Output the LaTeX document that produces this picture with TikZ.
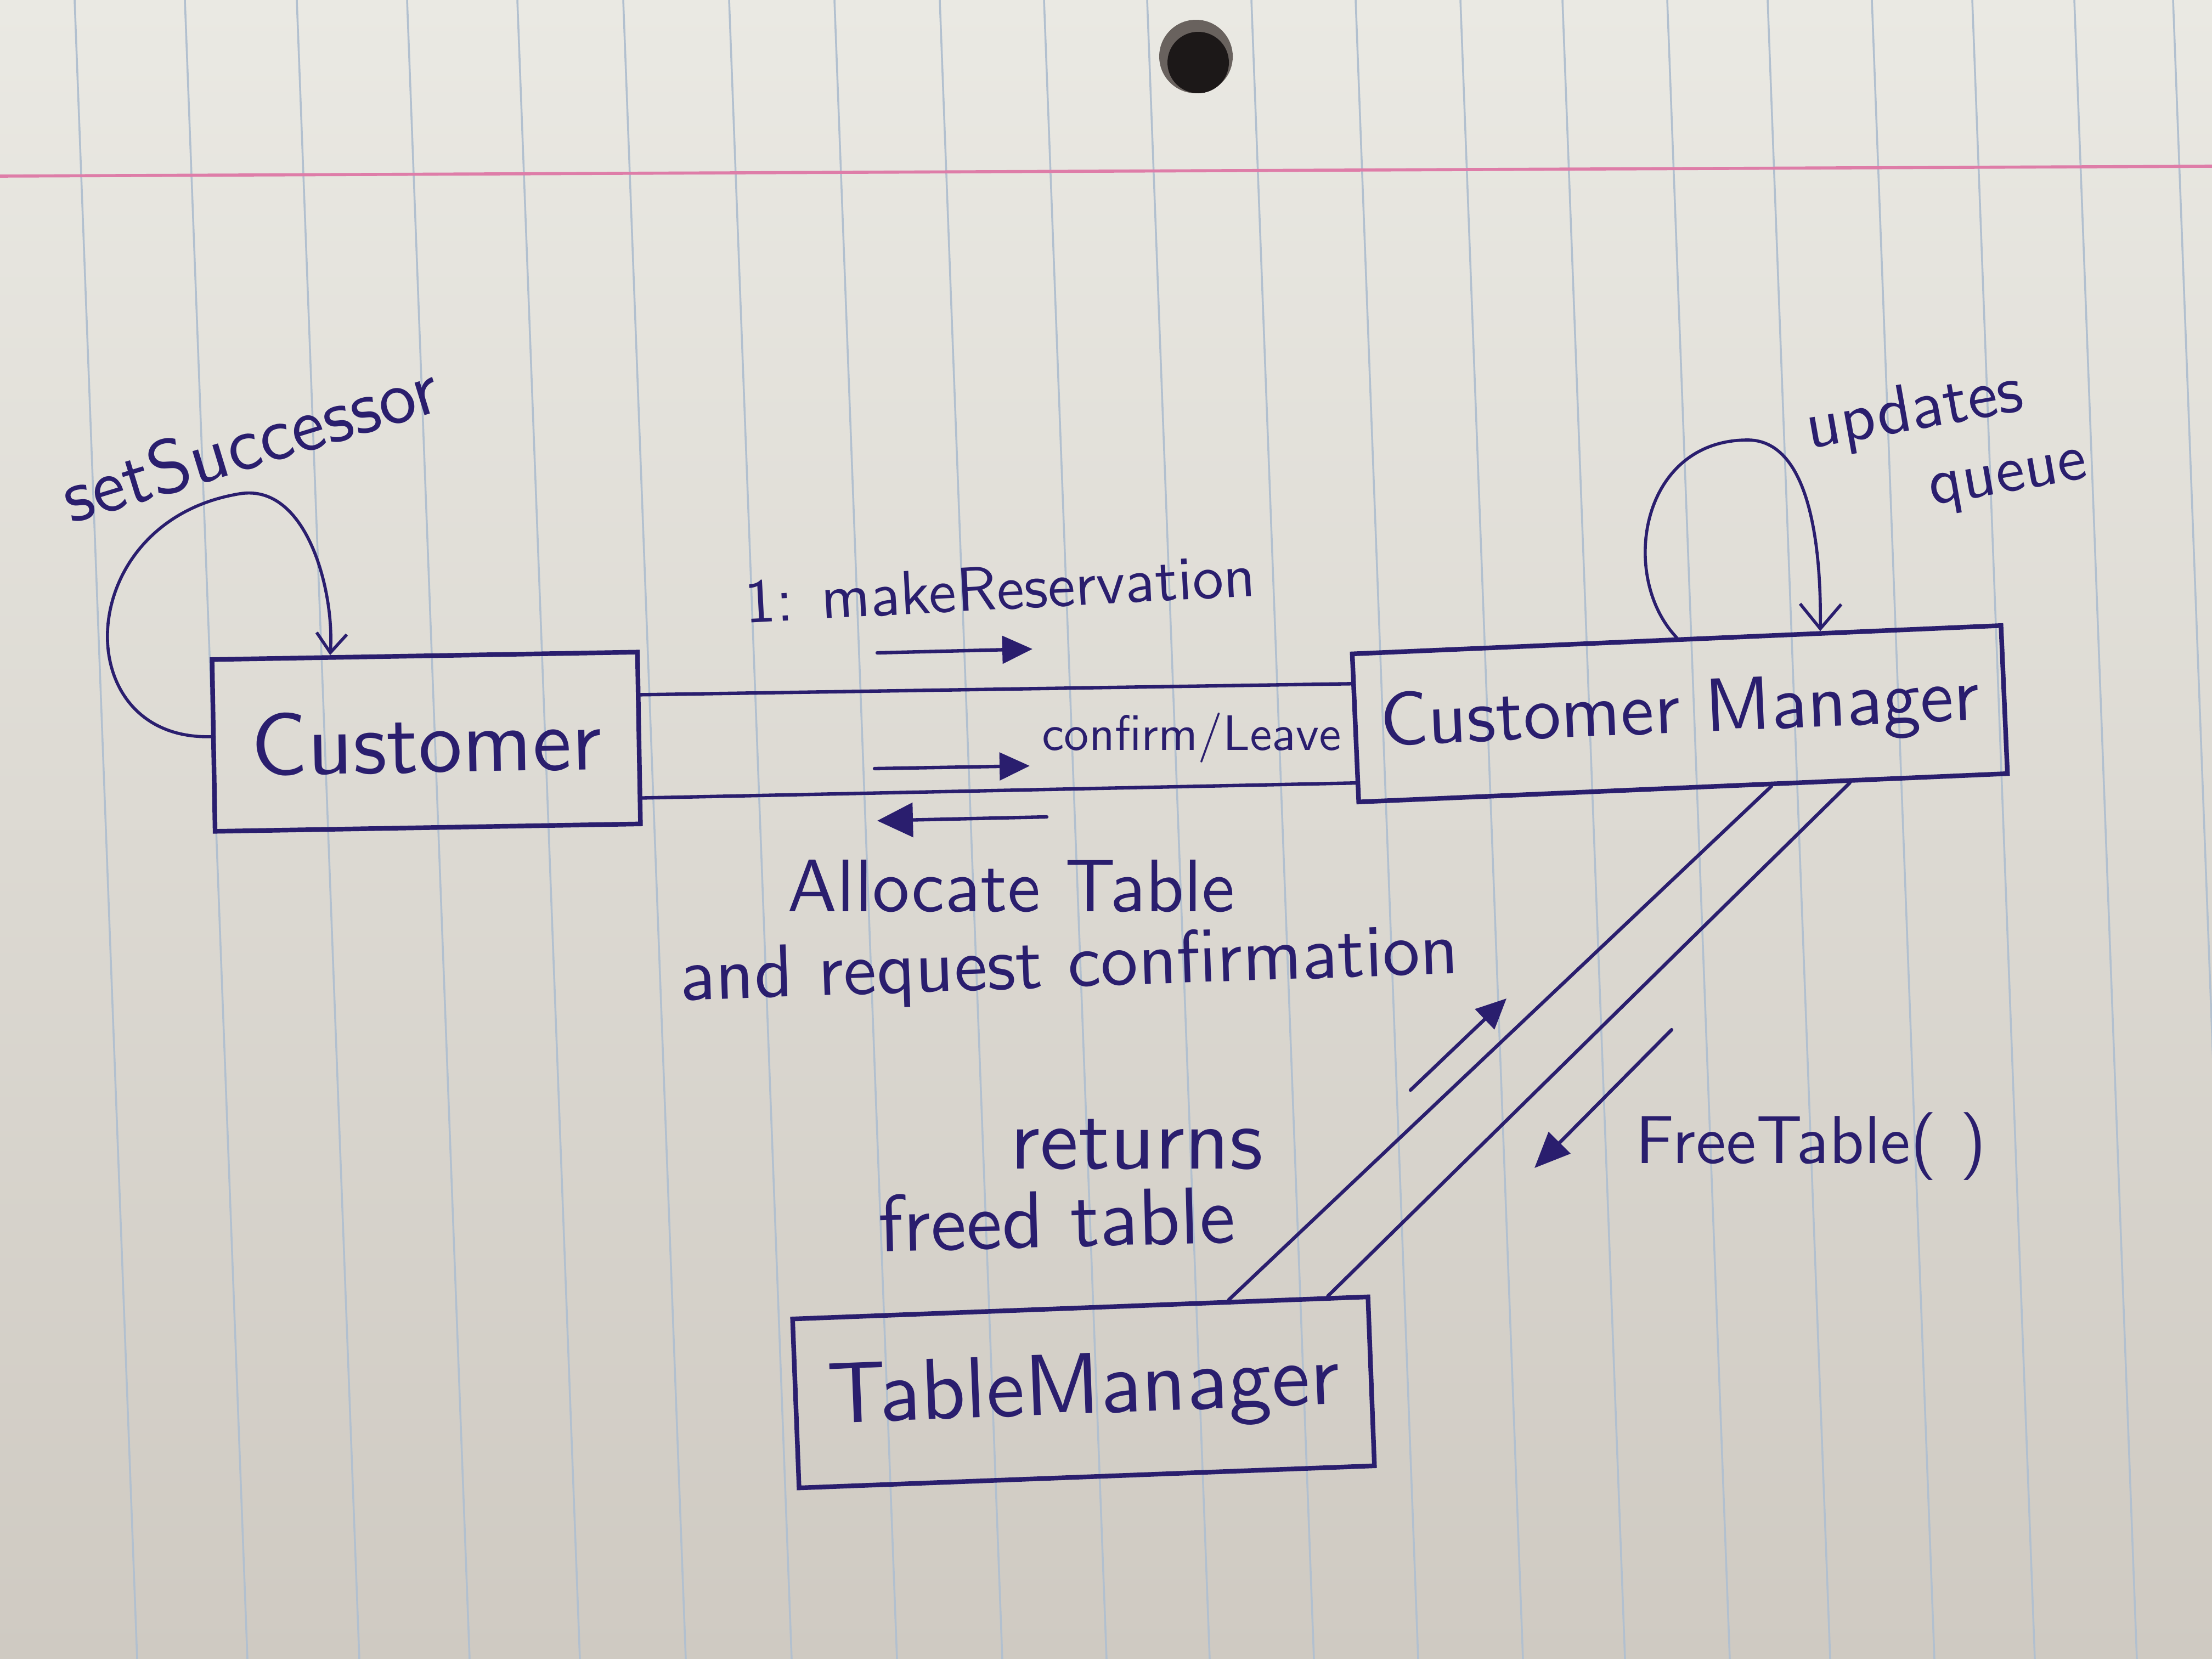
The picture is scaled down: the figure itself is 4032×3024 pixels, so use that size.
\documentclass[tikz,border=0pt]{standalone}
\usepackage{graphicx}
\usetikzlibrary{arrows.meta,calc}
\definecolor{ink}{RGB}{42,30,110}
\definecolor{paperT}{RGB}{234,233,227}
\definecolor{paperB}{RGB}{207,202,194}
\definecolor{rulec}{RGB}{178,192,207}
\definecolor{marginc}{RGB}{222,125,168}
\definecolor{holerim}{RGB}{105,98,94}
\definecolor{holec}{RGB}{28,24,24}
\newcommand{\fitw}[2]{\resizebox{#1}{!}{#2}}
\tikzset{
  obj/.style={draw=ink, line width=2.4pt, rectangle, inner sep=0pt, text=ink, font=\sffamily},
  link/.style={draw=ink, line width=1.8pt, line cap=round},
  msg/.style={draw=ink, line width=1.8pt, line cap=round, -{Triangle[length=0.55cm,width=0.5cm]}},
  selfloop/.style={draw=ink, line width=1.6pt, line cap=round, -{Straight Barb[length=0.35cm,width=0.55cm]}},
  lbl/.style={text=ink, font=\sffamily, inner sep=0pt},
  rulel/.style={draw=rulec, line width=1.0pt}
}
\begin{document}
\begin{tikzpicture}[x=0.01cm,y=-0.01cm]
\useasboundingbox (0,0) rectangle (4032,3024);
% paper
\shade[top color=paperT, bottom color=paperB] (0,0) rectangle (4032,3024);
\foreach \x in {185,386,590,791,992,1185,1378,1570,1762,1952,2140,2330,2520,2711,2897,3088,3271,3461,3644,3830,4010}
  \draw[rulel] ({\x-49},0) -- ({\x+65},3024);
\draw[draw=marginc, line width=1.6pt] (0,321) -- (4032,303);
\fill[holerim] (2180,103) circle [radius=67];
\fill[holec] (2184,114) circle [radius=56];

% objects
\node[obj, rotate=1, minimum width=7.75cm, minimum height=3.13cm] (cust) at (777,1352) {\fitw{6.38cm}{Customer}};
\node[obj, rotate=2.5, minimum width=11.83cm, minimum height=2.70cm] (cm) at (3062,1301) {\fitw{10.93cm}{Customer Manager}};
\node[obj, rotate=2.2, minimum width=10.49cm, minimum height=3.08cm] (tm) at (1975,2538) {\fitw{9.33cm}{TableManager}};

% links
\draw[link] ($(cust.north east)!0.255!(cust.south east)$) -- ($(cm.north west)!0.21!(cm.south west)$);
\draw[link] ($(cust.north east)!0.84!(cust.south east)$) -- ($(cm.north west)!0.86!(cm.south west)$);
\draw[link] ($(cm.south west)!0.635!(cm.south east)$) -- ($(tm.north west)!0.756!(tm.north east)$);
\draw[link] ($(cm.south west)!0.755!(cm.south east)$) -- ($(tm.north west)!0.927!(tm.north east)$);

% self loops
\coordinate (cA) at ($(cust.north west)!0.45!(cust.south west)$);
\coordinate (cB) at ($(cust.north west)!0.28!(cust.north east)$);
\coordinate (cTop) at (437,900);
\draw[selfloop] (cA) .. controls (120,1350) and (130,950) .. (cTop) .. controls (560,880) and (610,1080) .. (cB);
\coordinate (qA) at ($(cm.north west)!0.50!(cm.north east)$);
\coordinate (qB) at ($(cm.north west)!0.72!(cm.north east)$);
\coordinate (qTop) at (3188,802);
\draw[selfloop, -{Straight Barb[length=0.45cm,width=0.75cm]}] (qA) .. controls (2950,1050) and (2990,800) .. (qTop) .. controls (3300,805) and (3320,1000) .. (qB);

% message arrows
\coordinate (mrA) at (1599,1190); \coordinate (mrB) at (1882,1183);
\draw[msg] (mrA) -- (mrB);
\coordinate (cfA) at (1594,1401); \coordinate (cfB) at (1877,1396);
\draw[msg] (cfA) -- (cfB);
\coordinate (alA) at (1908,1489); \coordinate (alB) at (1599,1496);
\draw[msg, -{Triangle[length=0.65cm,width=0.62cm]}] (alA) -- (alB);
\coordinate (rtA) at (2571,1987); \coordinate (rtB) at (2746,1820);
\draw[msg] (rtA) -- (rtB);
\coordinate (ftA) at (3047,1877); \coordinate (ftB) at (2797,2129);
\draw[msg, -{Triangle[length=0.65cm,width=0.55cm]}] (ftA) -- (ftB);

% labels
\node[lbl, rotate=3] (lmr) at (1823,1072) {\fitw{9.31cm}{1: makeReservation}};
\node[lbl] (lcf) at (2172,1345) {\fitw{5.45cm}{confirm/Leave}};
\node[lbl] (lal1) at (1843,1615) {\fitw{8.15cm}{Allocate Table}};
\node[lbl, rotate=2] (lal2) at (1949,1764) {\fitw{14.2cm}{and request confirmation}};
\node[lbl] (lrt1) at (2072,2086) {\fitw{4.6cm}{returns}};
\node[lbl, rotate=1.5] (lrt2) at (1926,2222) {\fitw{6.5cm}{freed table}};
\node[lbl] (lft) at (3301,2090) {\fitw{6.38cm}{FreeTable( )}};
\node[lbl, rotate=17] (lss) at (455,805) {\fitw{7.1cm}{setSuccessor}};
\node[lbl, rotate=10] (luq1) at (3490,752) {\fitw{4.0cm}{updates}};
\node[lbl, rotate=10] (luq2) at (3662,880) {\fitw{2.9cm}{queue}};
\end{tikzpicture}
\end{document}
